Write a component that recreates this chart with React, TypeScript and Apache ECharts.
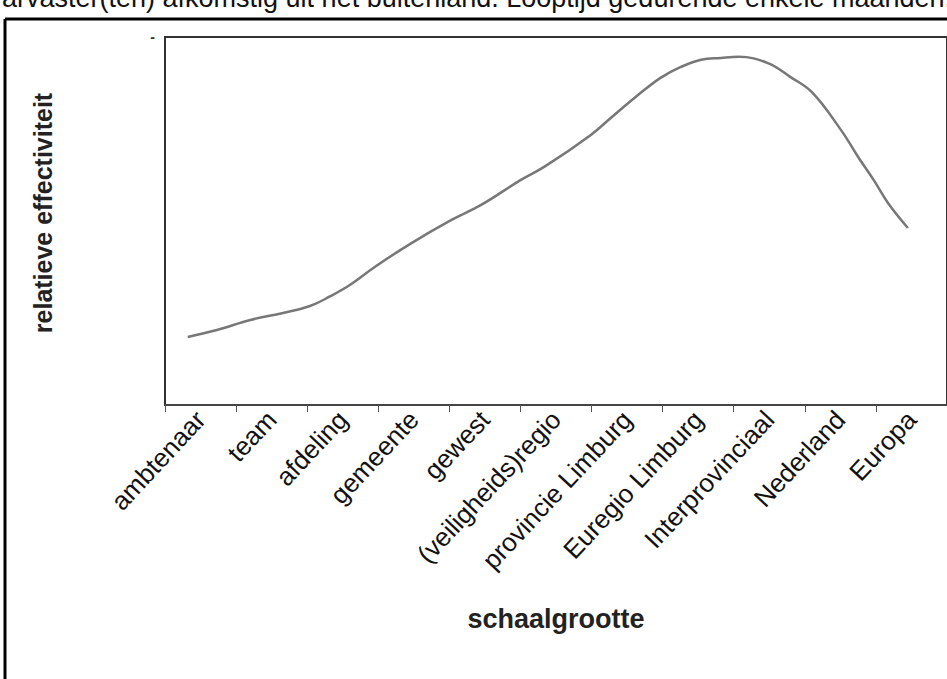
import React, { useEffect, useRef } from "react";
import * as echarts from "echarts";

const categories = [
  "ambtenaar",
  "team",
  "afdeling",
  "gemeente",
  "gewest",
  "(veiligheids)regio",
  "provincie Limburg",
  "Euregio Limburg",
  "Interprovinciaal",
  "Nederland",
  "Europa",
];

// position along the category axis (in category widths) and relative effectiveness
const curveX = [
  0.32, 0.73, 1.2, 1.66, 2.04, 2.32, 2.6, 2.95, 3.45, 4.03, 4.44, 5.0, 5.35, 5.99, 6.27,
  6.62, 6.97, 7.25, 7.54, 7.82, 8.07, 8.48, 8.8, 9.1, 9.51, 9.75, 9.97, 10.17, 10.45,
];
const curveY = [
  18.5, 20.4, 23.1, 25.0, 26.9, 29.5, 32.6, 37.5, 43.8, 50.3, 54.3, 61.1, 64.9, 73.4, 78.0,
  83.7, 88.9, 91.8, 93.8, 94.3, 94.6, 92.9, 89.1, 85.0, 74.7, 67.4, 61.1, 54.9, 48.1,
];

const yAxisTitle = "relatieve effectiviteit";
const xAxisTitle = "schaalgrootte";
const topText =
  "arvaster(ten) afkomstig uit het buitenland. Looptijd gedurende enkele maanden.";

export default function App() {
  const ref = useRef<HTMLDivElement>(null);
  useEffect(() => {
    document.body.style.margin = "0";
    const chart = echarts.init(ref.current!, null, { renderer: "svg" });
    const font = "'Liberation Sans', Arial, sans-serif";
    chart.setOption({
      animation: false,
      backgroundColor: "#ffffff",
      textStyle: { fontFamily: font },
      grid: {
        left: 165,
        top: 37,
        right: 0,
        bottom: 274,
        show: true,
        borderColor: "#333",
        borderWidth: 2,
        containLabel: false,
      },
      xAxis: [
        {
          type: "category",
          data: categories,
          boundaryGap: true,
          axisLine: { show: true, lineStyle: { color: "#444", width: 2 } },
          axisTick: { show: true, length: 7, interval: 0, lineStyle: { color: "#555", width: 1 } },
          axisLabel: {
            interval: 0,
            rotate: 47,
            margin: 10,
            fontSize: 26,
            color: "#111",
            fontFamily: font,
          },
          splitLine: { show: false },
          name: xAxisTitle,
          nameLocation: "middle",
          nameGap: 200,
          nameTextStyle: { fontSize: 27, fontWeight: "bold", color: "#222", fontFamily: font },
        },
        {
          type: "value",
          min: 0,
          max: 11,
          show: false,
          position: "bottom",
        },
      ],
      yAxis: {
        type: "value",
        min: 0,
        max: 100,
        interval: 100,
        axisLine: { show: true, lineStyle: { color: "#333", width: 2 } },
        axisTick: { show: false },
        splitLine: { show: false },
        axisLabel: {
          margin: 10,
          fontSize: 14,
          fontWeight: "bold",
          color: "#333",
          formatter: (v: number) => (v === 100 ? "-" : ""),
        },
        name: yAxisTitle,
        nameLocation: "middle",
        nameGap: 110,
        nameTextStyle: {
          fontSize: 25,
          fontWeight: "bold",
          color: "#222",
          fontFamily: font,
          padding: [0, 0, 0, 16],
        },
      },
      series: [
        {
          type: "line",
          xAxisIndex: 1,
          smooth: 0.4,
          showSymbol: false,
          data: curveX.map((x, i) => [x, curveY[i]]),
          lineStyle: { color: "#777", width: 2.5 },
        },
      ],
      graphic: [
        {
          type: "text",
          left: 2,
          top: -16,
          style: { text: topText, fontSize: 27, fill: "#111", fontFamily: font },
        },
        {
          type: "line",
          shape: { x1: 5, y1: 19, x2: 947, y2: 19 },
          style: { stroke: "#000", lineWidth: 3 },
        },
        {
          type: "line",
          shape: { x1: 5, y1: 19, x2: 5, y2: 679 },
          style: { stroke: "#000", lineWidth: 3 },
        },
      ],
    });
    return () => chart.dispose();
  }, []);
  return <div ref={ref} style={{ width: 947, height: 679 }} />;
}
